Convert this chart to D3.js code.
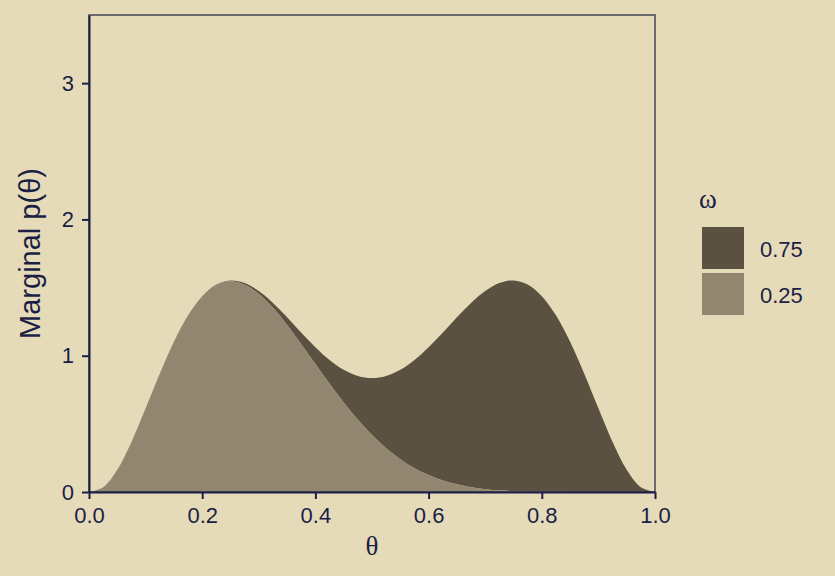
<!DOCTYPE html>
<html><head><meta charset="utf-8">
<script src="https://cdn.jsdelivr.net/npm/d3@7"></script>
<style>body{margin:0;background:#E6DBB9;}svg{display:block;font-family:"Liberation Sans",Arial,sans-serif;}</style>
</head><body>
<script>
const theta = d3.range(0, 41).map(i => i / 40);
const omega25 = [0, 0.035, 0.163, 0.367, 0.614, 0.868, 1.102, 1.295, 1.436, 1.519, 1.546, 1.521, 1.453, 1.352, 1.226, 1.085, 0.939, 0.794, 0.656, 0.530, 0.418, 0.321, 0.241, 0.175, 0.124, 0.084, 0.056, 0.035, 0.021, 0.012, 0.006, 0.003, 0.001, 0.001, 0, 0, 0, 0, 0, 0, 0];
const omega75 = [0, 0, 0, 0, 0, 0, 0, 0.001, 0.001, 0.003, 0.006, 0.012, 0.021, 0.035, 0.056, 0.084, 0.124, 0.175, 0.241, 0.321, 0.418, 0.530, 0.656, 0.794, 0.939, 1.085, 1.226, 1.352, 1.453, 1.521, 1.546, 1.519, 1.436, 1.295, 1.102, 0.868, 0.614, 0.367, 0.163, 0.035, 0];
const xTicks = [0, 0.2, 0.4, 0.6, 0.8, 1.0];
const yTicks = [0, 1, 2, 3];
const legendLabels = ["0.75", "0.25"];

const W = 835, H = 576;
const m = {l: 89, r: 180, t: 15, b: 84};
const ink = "#1B1F45";
const colors = {"0.75": "#5B5140", "0.25": "#938670"};

const svg = d3.select("body").append("svg").attr("width", W).attr("height", H);
svg.append("rect").attr("width", W).attr("height", H).attr("fill", "#E6DBB9");

const x = d3.scaleLinear().domain([0, 1]).range([m.l, W - m.r]);
const y = d3.scaleLinear().domain([0, 3.5]).range([H - m.b, m.t]);

const data = theta.map((t, i) => ({t, a: omega25[i], b: omega75[i]}));
const curve = d3.curveCatmullRom;

svg.append("path").datum(data)
  .attr("fill", colors["0.75"])
  .attr("d", d3.area().curve(curve).x(d => x(d.t)).y0(d => y(d.a)).y1(d => y(d.a + d.b)));
svg.append("path").datum(data)
  .attr("fill", colors["0.25"])
  .attr("d", d3.area().curve(curve).x(d => x(d.t)).y0(y(0)).y1(d => y(d.a)));

svg.append("rect").attr("x", m.l).attr("y", m.t)
  .attr("width", x(1) - m.l).attr("height", y(0) - m.t)
  .attr("fill", "none").attr("stroke", "#44445a").attr("stroke-width", 1.5);

const xAxis = svg.append("g").attr("transform", `translate(0,${y(0)})`)
  .call(d3.axisBottom(x).tickValues(xTicks).tickFormat(d3.format(".1f")).tickSize(7).tickSizeOuter(0).tickPadding(8));
const yAxis = svg.append("g").attr("transform", `translate(${m.l},0)`)
  .call(d3.axisLeft(y).tickValues(yTicks).tickFormat(d3.format("d")).tickSize(7).tickSizeOuter(0).tickPadding(8));
[xAxis, yAxis].forEach(g => {
  g.attr("font-family", null).attr("font-size", null);
  g.select(".domain").attr("stroke", ink).attr("stroke-width", 2);
  g.selectAll(".tick line").attr("stroke", ink).attr("stroke-width", 2);
  g.selectAll(".tick text").attr("fill", ink).attr("font-size", 22);
});

svg.append("text").attr("x", (m.l + x(1)) / 2).attr("y", 555)
  .attr("text-anchor", "middle").attr("fill", ink).attr("font-size", 27)
  .attr("font-family", "Liberation Serif, serif").text("θ");
svg.append("text").attr("transform", `translate(40,${(m.t + y(0)) / 2}) rotate(-90)`)
  .attr("text-anchor", "middle").attr("fill", ink).attr("font-size", 29).text("Marginal p(θ)");

const lg = svg.append("g");
lg.append("text").attr("x", 699).attr("y", 208).attr("fill", ink).attr("font-size", 27)
  .attr("font-family", "Liberation Serif, serif").text("ω");
legendLabels.forEach((lab, i) => {
  lg.append("rect").attr("x", 702).attr("y", 227 + i * 46).attr("width", 42).attr("height", 42)
    .attr("fill", colors[lab]);
  lg.append("text").attr("x", 760).attr("y", 249 + i * 46).attr("dy", "0.35em")
    .attr("fill", ink).attr("font-size", 22).text(lab);
});
</script>
</body></html>
